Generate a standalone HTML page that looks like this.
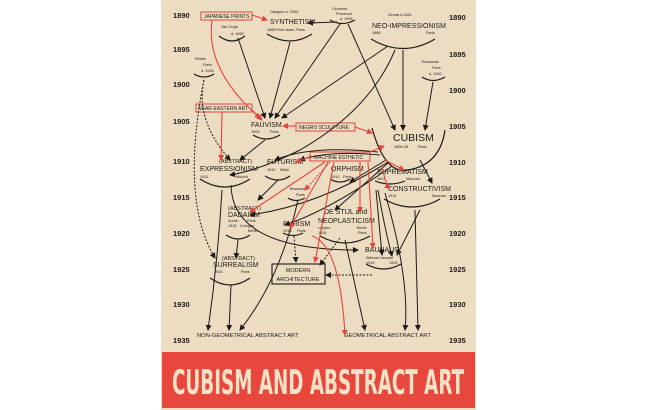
<!DOCTYPE html>
<html><head><meta charset="utf-8"><style>
body{margin:0;background:#fff;width:655px;height:410px;overflow:hidden}
svg{display:block}
text{font-family:"Liberation Sans",sans-serif;fill:#1f1a16}
.y{fill:#e0463c;font-size:7.5px;font-weight:bold}
.n{font-size:7px}
.s{font-size:3.8px}
.r{fill:#e0463c;font-size:5px}
</style></head><body>
<svg width="655" height="410" viewBox="0 0 655 410" xmlns="http://www.w3.org/2000/svg">
<defs>
<marker id="a" markerWidth="6" markerHeight="6" refX="5" refY="3" orient="auto" markerUnits="userSpaceOnUse"><path d="M0,0L6,3L0,6z" fill="#1f1a16"/></marker>
<marker id="b" markerWidth="6" markerHeight="6" refX="5" refY="3" orient="auto" markerUnits="userSpaceOnUse"><path d="M0,0L6,3L0,6z" fill="#e0463c"/></marker>
</defs>
<rect x="161" y="0" width="315" height="410" fill="#ecdcc2"/>
<rect x="162" y="352" width="313" height="56" fill="#e8473d"/>
<text x="318" y="394" text-anchor="middle" style="font-family:'DejaVu Sans Condensed','Liberation Sans Narrow',sans-serif;font-weight:bold;font-size:34px;fill:#f3e2c6" textLength="292" lengthAdjust="spacingAndGlyphs">CUBISM AND ABSTRACT ART</text>
<g class="y">
<text x="173" y="18">1890</text><text x="173" y="52">1895</text><text x="173" y="87">1900</text><text x="173" y="124">1905</text><text x="173" y="164">1910</text><text x="173" y="200">1915</text><text x="173" y="236">1920</text><text x="173" y="272">1925</text><text x="173" y="307">1930</text><text x="173" y="343">1935</text>
<text x="449" y="20">1890</text><text x="449" y="57">1895</text><text x="449" y="93">1900</text><text x="449" y="129">1905</text><text x="449" y="165">1910</text><text x="449" y="200">1915</text><text x="449" y="236">1920</text><text x="449" y="272">1925</text><text x="449" y="307">1930</text><text x="449" y="343">1935</text>
</g>
<g fill="none" stroke="#e0463c" stroke-width="1">
<rect x="201" y="12" width="51" height="8"/><rect x="196" y="104" width="56" height="8"/>
<rect x="296" y="123" width="59" height="8"/><rect x="310" y="152" width="60" height="9"/>
</g>
<g class="r">
<text x="204" y="18">JAPANESE PRINTS</text><text x="198" y="110">NEAR-EASTERN ART</text>
<text x="299" y="129">NEGRO SCULPTURE</text><text x="314" y="159">MACHINE ESTHETIC</text>
</g>
<rect x="272" y="264" width="53" height="20" fill="none" stroke="#1f1a16" stroke-width="1.1"/>
<text class="n" x="298" y="272" text-anchor="middle" style="font-size:5.5px">MODERN</text>
<text class="n" x="298" y="281" text-anchor="middle" style="font-size:5.5px">ARCHITECTURE</text>
<text class="s" x="270" y="13">Gauguin d. 1903</text><text class="n" x="270" y="24">SYNTHETISM</text><text class="s" x="267" y="31">1888 Pont-Aven, Paris</text>
<text class="s" x="332" y="10">Cézanne</text><text class="s" x="336" y="15">Provence</text><text class="s" x="340" y="20">d. 1906</text>
<text class="s" x="388" y="16">Seurat d.1891</text><text class="n" x="372" y="28">NEO-IMPRESSIONISM</text><text class="s" x="372" y="34">1886</text><text class="s" x="426" y="34">Paris</text>
<text class="s" x="221" y="28">Van Gogh</text><text class="s" x="231" y="35">d. 1890</text>
<text class="s" x="195" y="60">Redon</text><text class="s" x="203" y="66">Paris</text><text class="s" x="201" y="72">d. 1916</text>
<text class="s" x="422" y="63">Rousseau</text><text class="s" x="432" y="69">Paris</text><text class="s" x="429" y="75">d. 1910</text>
<text class="n" x="251" y="127">FAUVISM</text><text class="s" x="251" y="133">1905</text><text class="s" x="270" y="133">Paris</text>
<text x="393" y="141" style="font-size:10.5px">CUBISM</text><text class="s" x="394" y="148">1906-08</text><text class="s" x="418" y="148">Paris</text>
<text class="n" x="219" y="163" style="font-size:5.5px">(ABSTRACT)</text><text class="n" x="200" y="171">EXPRESSIONISM</text><text class="s" x="200" y="178">1911</text><text class="s" x="236" y="178">Munich</text>
<text class="n" x="267" y="164">FUTURISM</text><text class="s" x="267" y="171">1910</text><text class="s" x="280" y="171">Milan</text>
<text class="n" x="331" y="171">ORPHISM</text><text class="s" x="331" y="178">1912</text><text class="s" x="343" y="178">Paris</text>
<text class="n" x="377" y="174">SUPREMATISM</text><text class="s" x="377" y="180">1913</text><text class="s" x="406" y="180">Moscow</text>
<text class="n" x="388" y="191">CONSTRUCTIVISM</text><text class="s" x="388" y="197">1914</text><text class="s" x="432" y="197">Moscow</text>
<text class="s" x="290" y="190">Brancusi</text><text class="s" x="296" y="196">Paris</text>
<text class="n" x="228" y="210" style="font-size:5.5px">(ABSTRACT)</text><text class="n" x="228" y="217">DADAISM</text>
<text class="s" x="228" y="222">Zurich</text><text class="s" x="247" y="222">Paris</text><text class="s" x="228" y="227">1916</text><text class="s" x="240" y="227">Cologne</text><text class="s" x="248" y="232">Berlin</text>
<text class="n" x="324" y="214">DE STIJL and</text><text class="n" x="318" y="223">NEOPLASTICISM</text>
<text class="s" x="318" y="229">Leyden</text><text class="s" x="318" y="234">1916</text><text class="s" x="357" y="229">Berlin</text><text class="s" x="358" y="234">Paris</text>
<text class="n" x="283" y="226">PURISM</text><text class="s" x="283" y="232">1918</text><text class="s" x="297" y="232">Paris</text>
<text class="n" x="365" y="252">BAUHAUS</text><text class="s" x="366" y="259">Weimar Dessau</text><text class="s" x="366" y="264">1919</text><text class="s" x="389" y="264">1925</text>
<text class="n" x="222" y="260" style="font-size:5.5px">(ABSTRACT)</text><text class="n" x="213" y="267">SURREALISM</text><text class="s" x="214" y="273">1924</text><text class="s" x="241" y="273">Paris</text>
<text class="n" x="197" y="337" style="font-size:5.8px">NON-GEOMETRICAL ABSTRACT ART</text>
<text class="n" x="344" y="337" style="font-size:5.8px">GEOMETRICAL ABSTRACT ART</text>
<g fill="none" stroke="#1f1a16" stroke-width="1.2">
<path d="M219,36Q232,46 245,36"/><path d="M267,34Q290,48 312,34"/><path d="M330,20Q342,27 355,20"/>
<path d="M371,39Q403,58 435,39"/><path d="M194,74Q204,80 214,74"/><path d="M422,77Q433,84 445,77"/>
<path d="M253,135Q266,143 280,135"/><path d="M372,128Q385,175 408,170Q440,165 445,130"/>
<path d="M200,179Q225,195 250,179"/><path d="M265,176Q278,184 290,176"/><path d="M330,179Q340,185 350,179"/>
<path d="M375,181Q390,187 405,181"/><path d="M384,199Q412,215 440,199"/><path d="M288,198Q296,203 305,198"/>
<path d="M226,235Q238,243 250,235"/><path d="M320,236Q345,250 370,236"/><path d="M283,233Q293,238 303,233"/>
<path d="M366,264Q384,274 401,264"/><path d="M210,278Q230,292 250,278"/>
</g>
<g fill="none" stroke="#1f1a16" stroke-width="1" marker-end="url(#a)">
<path d="M238,38L265,118"/><path d="M290,42L270,118"/><path d="M340,24L275,118"/>
<path d="M388,46L282,118"/><path d="M337,22L308,23"/><path d="M348,24L395,130"/>
<path d="M403,50L403,130"/><path d="M395,50Q370,110 300,150Q260,170 230,175" /><path d="M433,82L425,130"/>
<path d="M265,140L240,160"/><path d="M378,152Q310,145 275,160"/><path d="M380,155Q330,150 300,160"/>
<path d="M386,160L350,182"/><path d="M388,162Q320,205 250,215"/><path d="M388,163L335,210"/>
<path d="M420,160L432,183"/><path d="M278,180L258,200"/><path d="M392,166Q330,210 285,225"/>
<path d="M231,185Q232,250 358,250"/><path d="M238,240L236,258"/>
<path d="M204,80Q195,120 230,160" stroke-dasharray="2,1.5"/>
<path d="M204,80Q180,200 215,258" stroke-dasharray="2,1.5"/>
<path d="M222,190Q218,260 208,330"/><path d="M231,285L229,330"/><path d="M298,200Q280,280 240,330"/>
<path d="M294,236L296,262" stroke-dasharray="2,1.5"/><path d="M340,238L320,265" stroke-dasharray="2,1.5"/>
<path d="M372,275L326,275" stroke-dasharray="2,1.5"/>
<path d="M376,190L382,255"/><path d="M378,190Q385,230 392,256"/><path d="M420,210L397,255"/>
<path d="M385,193Q410,280 405,330"/><path d="M415,210L418,330"/><path d="M345,240L365,330"/>
</g>
<g fill="none" stroke="#e0463c" stroke-width="1.1" marker-end="url(#b)">
<path d="M212,20Q205,70 260,118"/><path d="M252,15L267,20"/><path d="M222,112L221,160"/>
<path d="M252,110L262,120"/><path d="M296,126L283,126"/><path d="M355,127L372,133"/>
<path d="M312,156L296,162"/><path d="M370,152L384,146"/><path d="M325,162L250,212"/>
<path d="M330,162L305,190" stroke-dasharray="2,1.5"/><path d="M328,162L290,228"/>
<path d="M334,162L315,262"/><path d="M360,162L360,212"/><path d="M368,162L373,248"/>
<path d="M385,160L404,170"/><path d="M382,164Q385,185 390,188"/>
<path d="M312,236Q340,245 345,335"/>
</g>
</svg>
</body></html>
